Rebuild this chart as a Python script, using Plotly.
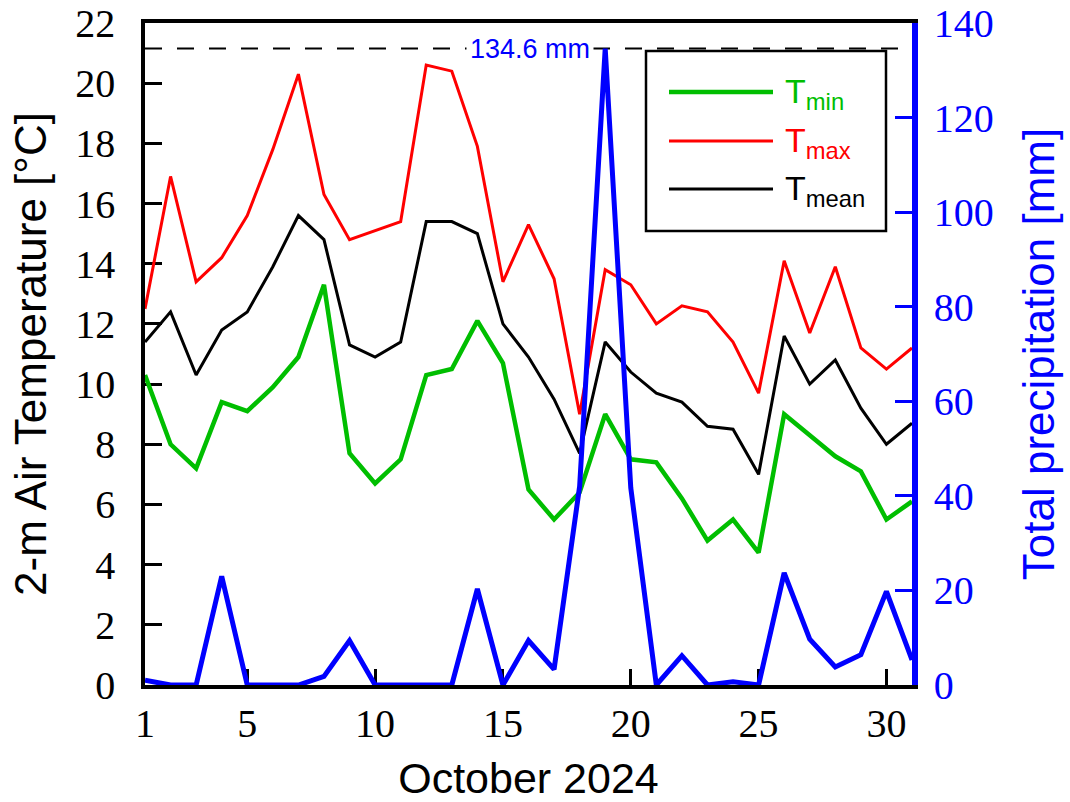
import plotly.graph_objects as go

days = list(range(1, 32))
tmin = [10.3, 8.0, 7.2, 9.4, 9.1, 9.9, 10.9, 13.3, 7.7, 6.7, 7.5, 10.3, 10.5, 12.1, 10.7,
        6.5, 5.5, 6.4, 9.0, 7.5, 7.4, 6.2, 4.8, 5.5, 4.4, 9.0, 8.3, 7.6, 7.1, 5.5, 6.1]
tmax = [12.5, 16.9, 13.4, 14.2, 15.6, 17.8, 20.3, 16.3, 14.8, 15.1, 15.4, 20.6, 20.4, 17.9, 13.4,
        15.3, 13.5, 9.0, 13.8, 13.3, 12.0, 12.6, 12.4, 11.4, 9.7, 14.1, 11.7, 13.9, 11.2, 10.5, 11.2]
tmean = [11.4, 12.4, 10.3, 11.8, 12.4, 13.9, 15.6, 14.8, 11.3, 10.9, 11.4, 15.4, 15.4, 15.0, 12.0,
         10.9, 9.5, 7.7, 11.4, 10.4, 9.7, 9.4, 8.6, 8.5, 7.0, 11.6, 10.0, 10.8, 9.2, 8.0, 8.7]
precip = [1.0, 0.0, 0.0, 23.0, 0.0, 0.0, 0.0, 1.8, 9.4, 0.0, 0.0, 0.0, 0.0, 20.3, 0.0,
          9.4, 3.3, 42.0, 134.6, 41.7, 0.0, 6.2, 0.0, 0.7, 0.0, 23.7, 9.7, 3.8, 6.4, 19.8, 5.3]

x_ticks = [1, 5, 10, 15, 20, 25, 30]
y_ticks = list(range(0, 23, 2))
y2_ticks = list(range(0, 141, 20))

names = ["T<sub>min</sub>", "T<sub>max</sub>", "T<sub>mean</sub>"]
colors = ["#00BE00", "#FF0000", "#000000"]
widths = [4.5, 3, 3]
series = [tmin, tmax, tmean]
BLUE = "#0000FF"

fig = go.Figure()
for s, c, w, n in zip(series, colors, widths, names):
    fig.add_trace(go.Scatter(x=days, y=s, mode="lines", line=dict(color=c, width=w),
                             name=n, showlegend=False))
fig.add_trace(go.Scatter(x=days, y=precip, mode="lines", line=dict(color=BLUE, width=5),
                         yaxis="y2", showlegend=False))

peak = max(precip)
peak_day = days[precip.index(peak)]

fig.add_shape(type="line", xref="x", yref="y2", x0=days[0], x1=days[-1], y0=peak, y1=peak,
              line=dict(color="black", width=2, dash="17px,15px"), layer="below")
fig.add_annotation(x=peak_day - 0.45, y=peak, xref="x", yref="y2", xanchor="right",
                   yanchor="middle", text=f"{peak:.1f} mm", showarrow=False,
                   bgcolor="white", font=dict(family="Liberation Sans", size=27, color=BLUE),
                   borderpad=3)

# legend box (manual, to reproduce long sample lines and coloured labels)
W, H = 767.0, 662.0
def px(xp):
    return (xp - 145) / W
def py(yp):
    return (685 - yp) / H

fig.add_shape(type="rect", xref="paper", yref="paper", x0=px(646), x1=px(886), y0=py(231), y1=py(51),
              line=dict(color="black", width=2.5), fillcolor="white", layer="above")
leg_y = [92, 141, 189]
for n, c, w, ly in zip(names, colors, widths, leg_y):
    fig.add_shape(type="line", xref="paper", yref="paper", x0=px(669), x1=px(773), y0=py(ly), y1=py(ly),
                  line=dict(color=c, width=w), layer="above")
    fig.add_annotation(xref="paper", yref="paper", x=px(783), y=py(ly - 22), xanchor="left", yanchor="top",
                       text=n, showarrow=False, font=dict(family="Liberation Sans", size=34, color=c))

tickfont = dict(family="Liberation Serif", size=40, color="black")
fig.update_layout(
    width=1070, height=802,
    margin=dict(l=145, r=158, t=23, b=117),
    plot_bgcolor="white", paper_bgcolor="white",
    showlegend=False,
    xaxis=dict(range=[1, 31], tickvals=x_ticks, ticks="inside", ticklen=16, tickwidth=3,
               tickcolor="black", showline=True, linecolor="black", linewidth=3.5, mirror=True,
               showgrid=False, zeroline=False, tickfont=tickfont, ticklabelstandoff=0,
               layer="below traces", automargin=False,
               title=dict(text="October 2024", font=dict(family="Liberation Sans", size=43, color="black"),
                          standoff=30)),
    yaxis=dict(range=[0, 22], tickvals=y_ticks, ticks="inside", ticklen=17, tickwidth=3,
               tickcolor="black", showline=True, linecolor="black", linewidth=3.5,
               showgrid=False, zeroline=False, tickfont=tickfont, ticklabelstandoff=18,
               layer="below traces", automargin=False,
               title=dict(text="2-m Air Temperature [°C]",
                          font=dict(family="Liberation Sans", size=44, color="black"), standoff=16)),
    yaxis2=dict(range=[0, 140], tickvals=y2_ticks, overlaying="y", side="right", ticks="inside",
                ticklen=17, tickwidth=3, tickcolor=BLUE, showline=True, linecolor=BLUE, linewidth=5.5,
                showgrid=False, zeroline=False, ticklabelstandoff=8, automargin=False,
                tickfont=dict(family="Liberation Serif", size=40, color=BLUE),
                title=dict(text="Total precipitation [mm]",
                           font=dict(family="Liberation Sans", size=44, color=BLUE), standoff=32)),
)

fig.write_html("out.html")
